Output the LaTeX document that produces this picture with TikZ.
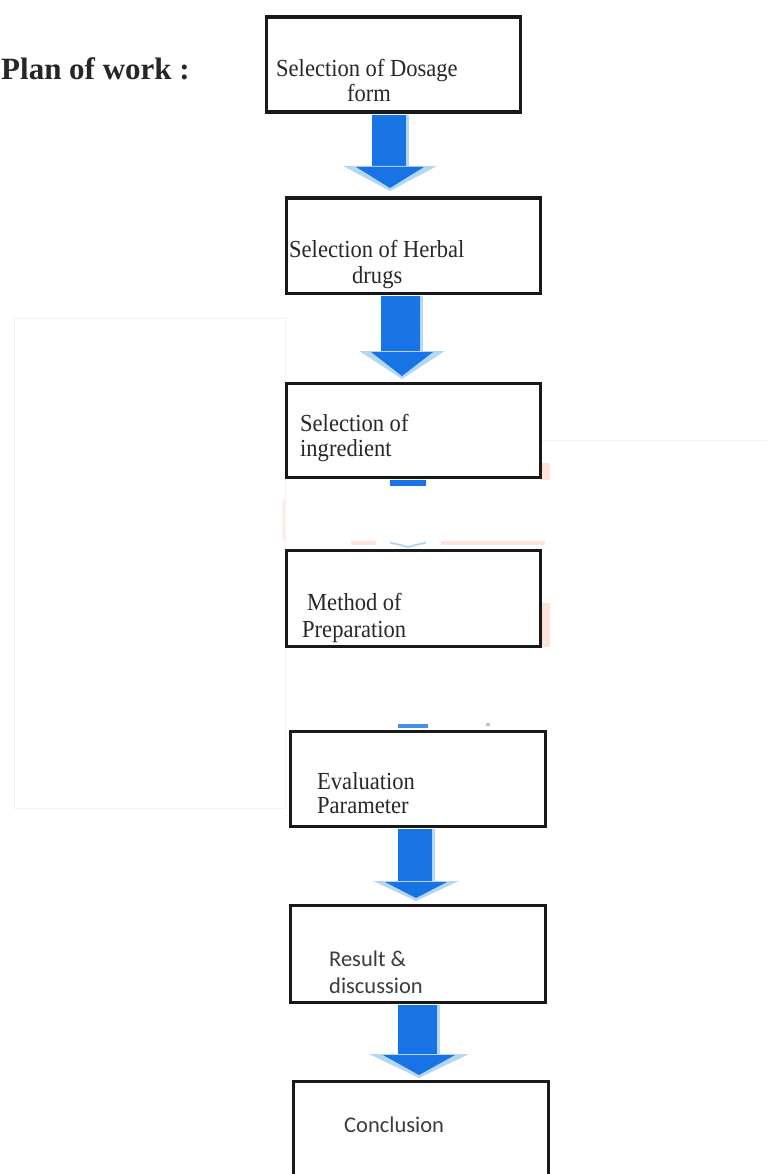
\documentclass[tikz,border=0pt]{standalone}
\usepackage{fontspec}
\setmainfont{Liberation Serif}
\newfontfamily\calibrifont{Carlito}
\usetikzlibrary{calc}
\definecolor{arrblue}{RGB}{24,116,228}
\definecolor{arrlight}{RGB}{180,215,244}
\definecolor{boxline}{RGB}{25,25,25}
\definecolor{txtgray}{RGB}{40,40,40}
\definecolor{sansgray}{RGB}{60,60,60}
\definecolor{pinkish}{RGB}{252,228,220}
\newcommand\narrowtext[1]{\scalebox{0.92}[1]{#1}}
\tikzset{
  flowbox/.style={draw=boxline, line width=3.2pt, minimum width=254pt, minimum height=95pt, inner sep=0pt, anchor=north west},
  lbl/.style={anchor=base west, inner sep=0pt, text=txtgray, font=\fontsize{24.5}{28}\selectfont},
  slbl/.style={anchor=base west, inner sep=0pt, text=sansgray, font=\calibrifont\fontsize{22.5}{26}\selectfont},
  ttl/.style={anchor=base west, inner sep=0pt, text=black!85, font=\bfseries\fontsize{31}{36}\selectfont},
  shaftfill/.style={fill=arrblue},
  headlight/.style={fill=arrlight},
  headblue/.style={fill=arrblue},
  stripe/.style={draw=arrlight, line width=3pt},
  faint/.style={draw=black!5, line width=1pt},
  artifact/.style={fill=pinkish},
  artifactpale/.style={fill=pinkish!60},
}
% #1 from node, #2 to node, #3 centre x, #4 shaft half width, #5 head half width, #6 head height, #7 gap above target
\newcommand\flowarrow[7]{%
  \coordinate (#1-top) at ($(#1.south -| #3,0)+(0,1.5)$);
  \coordinate (#2-tip) at ($(#2.north -| #3,0)+(0,-#7)$);
  \fill[shaftfill] ($(#1-top)+(-#4,0)$) rectangle ($(#2-tip)+(#4,-#6+3)$);
  \draw[stripe] ($(#1-top)+(#4-1.5,0)$) -- ($(#2-tip)+(#4-1.5,-#6+3)$);
  \fill[headlight] ($(#2-tip)+(-#5,-#6-1)$) -- ($(#2-tip)+(#5,-#6-1)$) -- ($(#2-tip)+(0,1)$) -- cycle;
  \fill[headblue] ($(#2-tip)+(-#5*0.72,-#6)$) -- ($(#2-tip)+(#5*0.72,-#6)$) -- ($(#2-tip)+(0,-2)$) -- cycle;
}
\begin{document}
\begin{tikzpicture}[x=1pt,y=-1pt]
\useasboundingbox (0,0) rectangle (767,1174);
\clip (0,0) rectangle (767,1174);
\fill[white] (0,0) rectangle (767,1174);
% faint background artefacts of the screenshot
\draw[faint] (14,318) rectangle (285,808);
\draw[faint] (540,440) -- (767,440);
\path[artifact] (540,463) rectangle (550,480);
\path[artifact] (541,603) rectangle (550,647);
\path[artifactpale] (282,500) rectangle (285,540);
\path[artifact] (351,541) rectangle (376,545);
\path[artifact] (441,541) rectangle (545,545);

\node[ttl] (title) at (1,80) {Plan of work :};

\node[flowbox] (b1) at (264.5,15.5) {};
\node[flowbox] (b2) at (284.5,196.5) {};
\node[flowbox, minimum height=94pt] (b3) at (284.5,381.5) {};
\node[flowbox, minimum height=96pt] (b4) at (284.5,548.5) {};
\node[flowbox, minimum width=255pt] (b5) at (288.5,729.5) {};
\node[flowbox, minimum width=255pt, minimum height=97pt] (b6) at (288.5,903.5) {};
\node[flowbox, minimum width=255pt, minimum height=100pt] (b7) at (291.5,1079.5) {};

\node[lbl] (t1a) at (276,77) {\narrowtext{Selection of Dosage}};
\node[lbl] (t1b) at (347,102) {\narrowtext{form}};
\node[lbl] (t2a) at (289,258) {\narrowtext{Selection of Herbal}};
\node[lbl] (t2b) at (352,283) {\narrowtext{drugs}};
\node[lbl] (t3a) at (300,431) {\narrowtext{Selection of}};
\node[lbl] (t3b) at (300,456) {\narrowtext{ingredient}};
\node[lbl] (t4a) at (307,610) {\narrowtext{Method of}};
\node[lbl] (t4b) at (302,637) {\narrowtext{Preparation}};
\node[lbl] (t5a) at (317,789) {\narrowtext{Evaluation}};
\node[lbl] (t5b) at (317,813) {\narrowtext{Parameter}};
\node[slbl] (t6a) at (329,966) {Result \&};
\node[slbl] (t6b) at (329,993) {discussion};
\node[slbl] (t7) at (344,1132) {Conclusion};

\flowarrow{b1}{b2}{390}{18.5}{47}{23}{6.5}
\flowarrow{b2}{b3}{402}{21}{43}{26}{3.5}
\flowarrow{b5}{b6}{416}{18.5}{43}{18}{3.5}
\flowarrow{b6}{b7}{419}{21}{50}{22}{2.5}

% remnants of the hidden arrows between b3, b4 and b5
\fill[arrblue] ($(b3.south -| 390,0)+(0,1.5)$) rectangle ($(b3.south -| 426,0)+(0,7)$);
\draw[arrlight, line width=2pt] ($(b4.north -| 390,0)+(0,-6)$) -- ($(b4.north -| 408,0)+(0,-1.5)$) -- ($(b4.north -| 426,0)+(0,-6)$);
\fill[arrblue!80] ($(b5.north -| 398,0)+(0,-6)$) rectangle ($(b5.north -| 428,0)+(0,-1.5)$);
\fill[black!25] ($(b5.north -| 488,0)+(0,-5)$) circle (2);
\end{tikzpicture}
\end{document}
